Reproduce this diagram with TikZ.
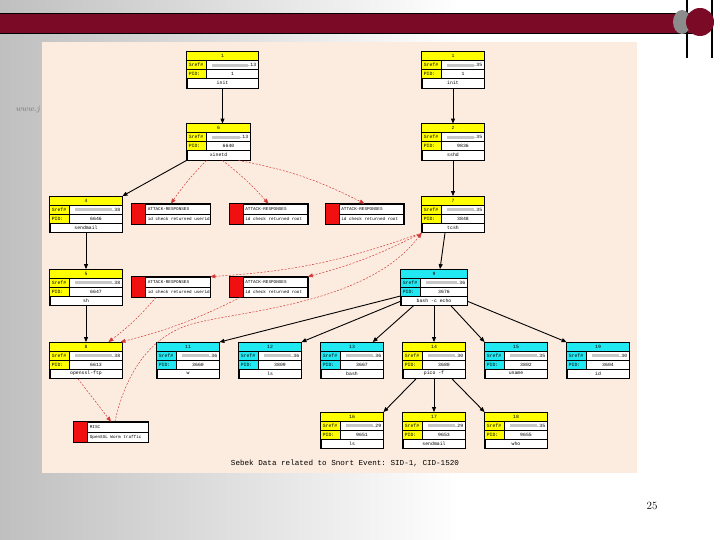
\documentclass[tikz,border=0pt]{standalone}
\usepackage{fontspec}
\setmonofont{Liberation Mono}
\usetikzlibrary{arrows.meta,calc}
\definecolor{barred}{HTML}{7A0A25}
\definecolor{peach}{HTML}{FCECDF}
\definecolor{recyel}{HTML}{FFFF00}
\definecolor{reccyan}{HTML}{22E8F2}
\definecolor{alertred}{HTML}{F01010}
\definecolor{edgered}{HTML}{D23A3A}
\tikzset{
  recbox/.style={draw, fill=white, line width=0.8pt, minimum height=36pt, inner sep=0pt},
  alertbox/.style={draw, fill=white, line width=0.7pt, minimum height=20pt, inner sep=0pt},
  rectext/.style={font=\fontsize{4.8}{5}\ttfamily, inner sep=0pt},
  alerttext/.style={font=\fontsize{4.3}{5}\ttfamily, inner sep=0pt, anchor=west},
  spawn/.style={-{Triangle[length=5pt,width=4pt]}, line width=0.9pt},
  alarm/.style={-{Triangle[length=5pt,width=4pt]}, edgered, dash pattern=on 2pt off 1.5pt, line width=0.5pt},
}
% process record: name, position, width, colour, header, host, pid, command
\newcommand{\procrec}[8]{%
  \node[recbox, minimum width=#3] (#1) at (#2) {};
  \fill[#4] (#1.north west) rectangle ([yshift=-9pt]#1.north east);
  \fill[#4] ([yshift=-9pt]#1.north west) rectangle ([xshift=20pt,yshift=-27pt]#1.north west);
  \draw[line width=0.4pt] ([yshift=-9pt]#1.north west) -- ([yshift=-9pt]#1.north east);
  \draw[line width=0.4pt] ([yshift=-18pt]#1.north west) -- ([yshift=-18pt]#1.north east);
  \draw[line width=0.4pt] ([yshift=-27pt]#1.north west) -- ([yshift=-27pt]#1.north east);
  \draw[line width=0.4pt] ([xshift=20pt,yshift=-9pt]#1.north west) -- ([xshift=20pt,yshift=-27pt]#1.north west);
  \fill[black!22] ([xshift=25pt,yshift=-12pt]#1.north west) rectangle ([xshift=-10pt,yshift=-15pt]#1.north east);
  \node[rectext] (#1-hd) at ([yshift=-4.5pt]#1.north) {#5};
  \node[rectext, anchor=west] (#1-sl) at ([xshift=2pt,yshift=-13.5pt]#1.north west) {Sref\#};
  \node[rectext, anchor=west] (#1-pl) at ([xshift=2pt,yshift=-22.5pt]#1.north west) {PID:};
  \node[rectext, anchor=east] (#1-ip) at ([xshift=-2pt,yshift=-13.5pt]#1.north east) {.#6};
  \node[rectext] (#1-pid) at ([xshift=10pt,yshift=-22.5pt]#1.north) {#7};
  \node[rectext] (#1-cmd) at ([yshift=-31.5pt]#1.north) {#8};
  \draw[line width=0.8pt] (#1.north west) rectangle (#1.south east);
}
% snort alert: name, position, width, class, message
\newcommand{\alertrec}[5]{%
  \node[alertbox, minimum width=#3] (#1) at (#2) {};
  \fill[alertred] (#1.north west) rectangle ([xshift=14pt]#1.south west);
  \draw[line width=0.4pt] ([xshift=14pt]#1.north west) -- ([xshift=14pt]#1.south west);
  \draw[line width=0.4pt] ([xshift=14pt]#1.west) -- (#1.east);
  \node[alerttext] (#1-cl) at ([xshift=16pt,yshift=5pt]#1.west) {#4};
  \node[alerttext] (#1-msg) at ([xshift=16pt,yshift=-5pt]#1.west) {#5};
  \draw[line width=0.7pt] (#1.north west) rectangle (#1.south east);
}
\begin{document}
\begin{tikzpicture}[x=1pt, y=1pt]
\useasboundingbox (0,0) rectangle (720,540);

% slide background
\shade[left color=black!25, right color=white] (0,0) rectangle (460,540);
\fill[white] (460,0) rectangle (720,540);
\node[font=\bfseries\itshape\fontsize{8}{9}\selectfont, text=black!45, anchor=west] (web) at (12,430) {www.j};
\fill[barred] (0,507) rectangle (700,527);
\draw[line width=0.8pt] (0,507) -- (700,507) (0,527) -- (700,527);
\draw[line width=1.2pt] (687,540) -- (687,482) (712,540) -- (712,482);
\fill[black!45] (682,518) ellipse (9 and 12);
\fill[barred] (700,518) circle (14);
\node[font=\fontsize{11}{12}\selectfont] (page) at (652,34) {25};

% captured figure
\fill[peach] (42,67) rectangle (637,498);

% process tree, left host
\procrec{p1}{222.5,470}{71pt}{recyel}{1}{13}{1}{init}
\procrec{p6}{218.5,398}{63pt}{recyel}{6}{13}{6640}{xinetd}
\procrec{p4}{86,325.5}{72pt}{recyel}{4}{38}{6646}{sendmail}
\procrec{p5}{86,252.5}{72pt}{recyel}{5}{38}{6647}{sh}
\procrec{p8}{86,179.5}{72pt}{recyel}{8}{38}{6613}{openssl-ftp}

% process tree, right host
\procrec{q1}{453,470}{62pt}{recyel}{1}{35}{1}{init}
\procrec{q2}{453,398}{62pt}{recyel}{2}{35}{9836}{sshd}
\procrec{q7}{453,325.5}{62pt}{recyel}{7}{35}{3848}{tcsh}
\procrec{q9}{434,252.5}{66pt}{reccyan}{9}{36}{3676}{bash -c echo}
\procrec{q11}{188,179.5}{62pt}{reccyan}{11}{36}{3660}{w}
\procrec{q12}{270,179.5}{62pt}{reccyan}{12}{36}{3809}{ls}
\procrec{q13}{352,179.5}{62pt}{reccyan}{13}{36}{3667}{bash}
\procrec{q14}{434,179.5}{62pt}{recyel}{14}{30}{3680}{pico -f}
\procrec{q15}{516,179.5}{62pt}{reccyan}{15}{35}{3802}{uname}
\procrec{q19}{598,179.5}{62pt}{reccyan}{19}{30}{3604}{id}
\procrec{q16}{352,109.5}{62pt}{recyel}{16}{29}{9651}{ls}
\procrec{q17}{434,109.5}{62pt}{recyel}{17}{29}{9653}{sendmail}
\procrec{q18}{516,109.5}{62pt}{recyel}{18}{35}{9655}{who}

% snort alerts
\alertrec{a1}{171,326}{78pt}{ATTACK-RESPONSES}{id check returned userid}
\alertrec{a2}{268.5,326}{78pt}{ATTACK-RESPONSES}{id check returned root}
\alertrec{a3}{364.5,326}{78pt}{ATTACK-RESPONSES}{id check returned root}
\alertrec{a4}{171,253}{78pt}{ATTACK-RESPONSES}{id check returned userid}
\alertrec{a5}{268.5,253}{78pt}{ATTACK-RESPONSES}{id check returned root}
\alertrec{a6}{111,108}{74pt}{MISC}{OpenSSL Worm traffic}

\node[font=\fontsize{7.6}{8}\ttfamily] (caption) at (345,77) {Sebek Data related to Snort Event: SID-1, CID-1520};

% parent -> child
\draw[spawn] (p1.south) -- (p1.south |- p6.north);
\draw[spawn] (p6.south west) -- (p4.north east);
\draw[spawn] (p4) -- (p5);
\draw[spawn] (p5) -- (p8);
\draw[spawn] (q1) -- (q2);
\draw[spawn] (q2) -- (q7);
\draw[spawn] (q7.south) ++(-8pt,0) -- ([xshift=6pt]q9.north);
\draw[spawn] (q9) -- (q11.north east);
\draw[spawn] (q9) -- (q12.north east);
\draw[spawn] (q9) -- (q13);
\draw[spawn] (q9) -- (q14);
\draw[spawn] (q9) -- (q15.north west);
\draw[spawn] (q9) -- (q19.north west);
\draw[spawn] (q14) -- (q16.north east);
\draw[spawn] (q14) -- (q17);
\draw[spawn] (q14) -- (q18.north west);

% process -> alert
\draw[alarm] (p6.south) ++(-12pt,0) to[bend right=5] (a1.north);
\draw[alarm] (p6.south) ++(4pt,0) to[bend left=5] (a2.north);
\draw[alarm] (p6.south) ++(20pt,0) to[bend left=8] (a3.north);
\draw[alarm] (q7.south west) to[bend left=8] (a4.north east);
\draw[alarm] (q7.south west) to[bend left=6] (a5.north east);
\draw[alarm] ([xshift=-15pt]a4.south) to[bend left=6] ([xshift=-14pt]p8.north east);
\draw[alarm] ([xshift=-28pt]a5.south) to[bend left=6] ([xshift=-2pt]p8.north east);
\draw[alarm] ([xshift=-8pt]p8.south) to (a6.north);
\draw[alarm] ([xshift=4pt]a6.north) .. controls (125,165) and (150,208) .. (200,218)
  .. controls (250,230) and (370,238) .. (q7.south west);
\end{tikzpicture}
\end{document}
